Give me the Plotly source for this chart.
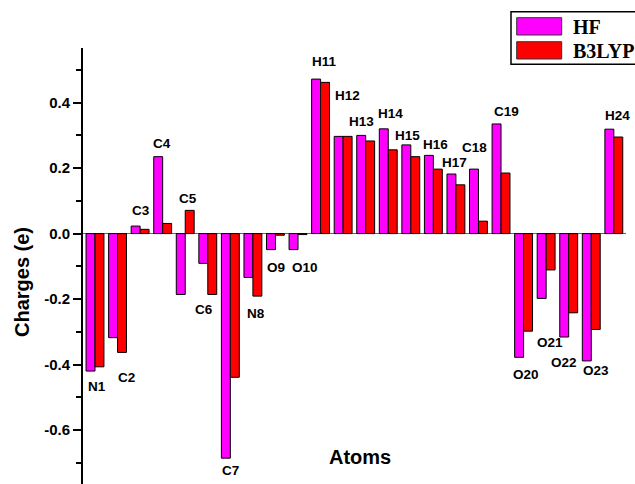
import plotly.graph_objects as go

atoms = ["N1", "C2", "C3", "C4", "C5", "C6", "C7", "N8", "O9", "O10", "H11", "H12",
         "H13", "H14", "H15", "H16", "H17", "C18", "C19", "O20", "O21", "O22", "O23", "H24"]
hf = [-0.420, -0.318, 0.023, 0.235, -0.186, -0.091, -0.686, -0.134, -0.049, -0.049, 0.472, 0.297,
      0.300, 0.320, 0.271, 0.239, 0.182, 0.197, 0.335, -0.378, -0.198, -0.316, -0.389, 0.319]
b3lyp = [-0.407, -0.363, 0.013, 0.031, 0.071, -0.186, -0.439, -0.191, -0.005, -0.003, 0.462, 0.297,
         0.283, 0.256, 0.235, 0.197, 0.149, 0.038, 0.185, -0.298, -0.111, -0.242, -0.293, 0.295]
tick_vals = [-0.6, -0.4, -0.2, 0.0, 0.2, 0.4]
tick_text = ["-0.6", "-0.4", "-0.2", "0.0", "0.2", "0.4"]
series_names = ["HF", "B3LYP"]

# label placement (pixel offsets from the group's bar tip), separate from data
label_dx = [1.7, 9.1, 0.9, -0.2, 2.3, -3.8, 0.1, 2.6, 0.5, 7.0, 3.9, 4.1,
            -3.7, 2.4, -3.5, 2.3, -1.0, -4.2, 5.9, 2.2, 3.5, -4.6, 4.9, 3.6]
label_dy = [-15.5, -25.0, 15.1, 13.1, 11.8, -15.5, -12.7, -17.1, -17.9, -17.9, 17.5, 40.5,
            14.3, 15.0, 9.3, 11.0, 11.2, 21.9, 12.6, -16.8, -43.6, -25.7, -9.8, 13.6]

W, H = 635, 484
L, R, T, B = 83, 9, 48, 0
colors = ["#FF00FF", "#FF0000"]

idx = list(range(len(atoms)))
fig = go.Figure()
for name, vals, col in zip(series_names, [hf, b3lyp], colors):
    fig.add_trace(go.Bar(x=idx, y=vals, name=name, marker=dict(color=col, line=dict(color="black", width=1)),
                         showlegend=False))

annotations = []
for i, a in enumerate(atoms):
    up = label_dy[i] > 0
    tip = max(hf[i], b3lyp[i]) if up else min(hf[i], b3lyp[i])
    annotations.append(dict(x=i, y=tip, xref="x", yref="y", text=a, showarrow=False,
                            xshift=label_dx[i], yshift=label_dy[i], xanchor="center", yanchor="middle",
                            font=dict(family="Liberation Sans", size=13.5, color="black", weight="bold")))

def px(xp):
    return (xp - L) / (W - L - R)

def py(yp):
    return (H - B - yp) / (H - T - B)

annotations.append(dict(x=px(22), y=py(282), xref="paper", yref="paper", text="Charges (e)", textangle=-90,
                        showarrow=False, xanchor="center", yanchor="middle",
                        font=dict(family="Liberation Sans", size=20, color="black", weight="bold")))
annotations.append(dict(x=px(359.5), y=py(456.5), xref="paper", yref="paper", text="Atoms",
                        showarrow=False, xanchor="center", yanchor="middle",
                        font=dict(family="Liberation Sans", size=20, color="black", weight="bold")))

# legend box drawn by hand
shapes = [dict(type="rect", xref="paper", yref="paper", x0=px(511), x1=px(660), y0=py(64.3), y1=py(11.7),
               line=dict(color="black", width=1.5), fillcolor="white")]
for k, (name, col) in enumerate(zip(series_names, colors)):
    y0, y1 = 17.7 + 24 * k, 35 + 24 * k
    shapes.append(dict(type="rect", xref="paper", yref="paper", x0=px(516.7), x1=px(561.7),
                       y0=py(y1), y1=py(y0), line=dict(color="#333333", width=1), fillcolor=col))
    annotations.append(dict(x=px(570.5), y=py((y0 + y1) / 2 + 0.5), xref="paper", yref="paper", text=name,
                            showarrow=False, xanchor="left", yanchor="middle",
                            font=dict(family="Liberation Serif", size=20, color="black", weight="bold")))

fig.update_layout(
    width=W, height=H, autosize=False,
    margin=dict(l=L, r=R, t=T, b=B, pad=0),
    plot_bgcolor="white", paper_bgcolor="white",
    barmode="group", bargap=0.207, bargroupgap=0,
    showlegend=False,
    annotations=annotations, shapes=shapes,
    xaxis=dict(range=[-0.532, 23.54], showline=False, showticklabels=False, showgrid=False,
               zeroline=False, ticks=""),
    yaxis=dict(range=[-0.765, 0.567], showline=True, linecolor="black", linewidth=2,
               showgrid=False, zeroline=True, zerolinecolor="#666666", zerolinewidth=1,
               ticks="outside", ticklen=8, tickwidth=2, tickcolor="black",
               tickvals=tick_vals, ticktext=tick_text,
               tickfont=dict(family="Liberation Sans", size=15, color="black", weight="bold"),
               minor=dict(dtick=0.1, tick0=0, ticks="outside", ticklen=5, tickwidth=2, tickcolor="black")),
)
fig.write_html("out.html", config={"displayModeBar": False},
               post_script="document.body.style.margin='0';document.body.style.overflow='hidden';")
